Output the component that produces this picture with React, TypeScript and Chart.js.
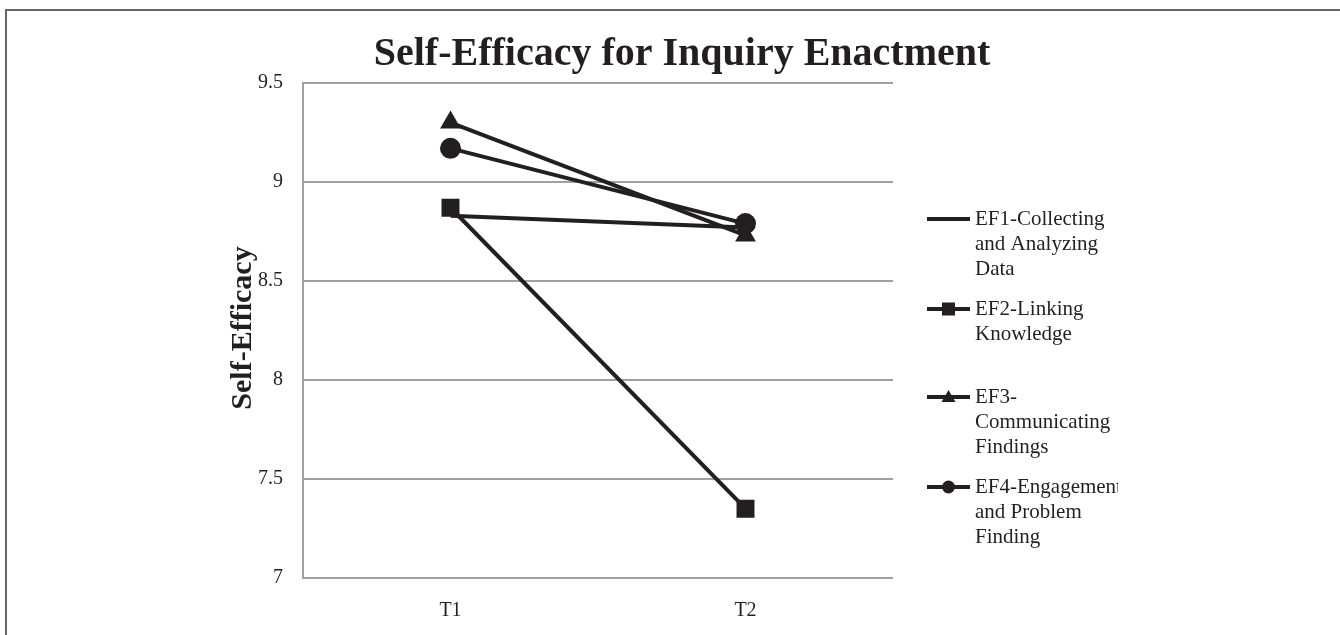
import React, { useEffect, useRef } from "react";
import { Chart, registerables } from "chart.js";

Chart.register(...registerables);

const categories = ["T1", "T2"];
const ef1 = [8.83, 8.77];
const ef2 = [8.87, 7.35];
const ef3 = [9.3, 8.73];
const ef4 = [9.17, 8.79];
const titleText = "Self-Efficacy for Inquiry Enactment";
const yTitleText = "Self-Efficacy";
const legendLines = [
  ["EF1-Collecting", "and Analyzing", "Data"],
  ["EF2-Linking", "Knowledge"],
  ["EF3-", "Communicating", "Findings"],
  ["EF4-Engagement", "and Problem", "Finding"],
];

const INK = "#231f20";
const SERIF = "'Liberation Serif', 'DejaVu Serif', serif";

const decorPlugin = {
  id: "decor",
  afterDraw(chart: any) {
    const ctx = chart.ctx as CanvasRenderingContext2D;
    ctx.save();
    // outer frame (top & left visible)
    ctx.strokeStyle = "#666";
    ctx.lineWidth = 2;
    ctx.strokeRect(6, 10, 1400, 700);

    // title
    ctx.fillStyle = INK;
    ctx.font = `bold 40px ${SERIF}`;
    ctx.textAlign = "center";
    ctx.textBaseline = "middle";
    ctx.fillText(titleText, 682, 55);

    // y title
    ctx.save();
    ctx.translate(243, 328);
    ctx.rotate(-Math.PI / 2);
    ctx.font = `bold 30px ${SERIF}`;
    ctx.fillText(yTitleText, 0, 0);
    ctx.restore();

    // legend
    const starts = [219, 309, 397, 487];
    const lh = 25;
    ctx.save();
    ctx.beginPath();
    ctx.rect(900, 150, 218, 450);
    ctx.clip();
    chart.data.datasets.forEach((ds: any, i: number) => {
      const y = starts[i];
      ctx.strokeStyle = INK;
      ctx.lineWidth = 4;
      ctx.beginPath();
      ctx.moveTo(927, y);
      ctx.lineTo(970, y);
      ctx.stroke();
      ctx.fillStyle = INK;
      const cx = 948.5;
      const style = ds.pointStyle;
      if (ds.pointRadius > 0) {
        if (style === "rect") {
          ctx.fillRect(cx - 6.5, y - 6.5, 13, 13);
        } else if (style === "triangle") {
          ctx.beginPath();
          ctx.moveTo(cx, y - 7);
          ctx.lineTo(cx + 7, y + 5);
          ctx.lineTo(cx - 7, y + 5);
          ctx.closePath();
          ctx.fill();
        } else if (style === "circle") {
          ctx.beginPath();
          ctx.arc(cx, y, 6.5, 0, Math.PI * 2);
          ctx.fill();
        }
      }
      ctx.font = `21px ${SERIF}`;
      ctx.textAlign = "left";
      ctx.textBaseline = "middle";
      legendLines[i].forEach((t, j) => {
        ctx.fillText(t, 975, y + j * lh);
      });
    });
    ctx.restore();
    ctx.restore();
  },
};

export default function App() {
  const ref = useRef<HTMLCanvasElement | null>(null);
  useEffect(() => {
    if (!ref.current) return;
    const common = {
      borderColor: INK,
      backgroundColor: INK,
      pointBackgroundColor: INK,
      pointBorderColor: INK,
      borderWidth: 4,
      pointBorderWidth: 0,
    };
    const chart = new Chart(ref.current, {
      type: "line",
      data: {
        labels: categories,
        datasets: [
          { label: legendLines[0].join(" "), data: ef1, ...common, pointRadius: 0, pointStyle: "circle" },
          { label: legendLines[1].join(" "), data: ef2, ...common, pointRadius: 12.7, pointStyle: "rect" },
          { label: legendLines[2].join(" "), data: ef3, ...common, pointRadius: 12, pointStyle: "triangle" },
          { label: legendLines[3].join(" "), data: ef4, ...common, pointRadius: 10.5, pointStyle: "circle" },
        ],
      },
      options: {
        animation: false,
        responsive: false,
        maintainAspectRatio: false,
        layout: { padding: { left: 0, top: 83, right: 447, bottom: 0 } },
        plugins: { legend: { display: false }, title: { display: false }, tooltip: { enabled: false } },
        elements: { line: { tension: 0 } },
        scales: {
          x: {
            offset: true,
            grid: { display: false, drawTicks: false },
            border: { display: false },
            ticks: { color: INK, font: { family: SERIF, size: 20 }, padding: 21 },
            afterFit: (s: any) => { s.height = 57; },
          },
          y: {
            min: 7,
            max: 9.5,
            ticks: {
              stepSize: 0.5,
              color: INK,
              font: { family: SERIF, size: 20 },
              padding: 20,
              callback: (v: any) => String(v),
            },
            grid: { color: "#a0a0a0", lineWidth: 2, drawTicks: false },
            border: { display: true, color: "#a0a0a0", width: 2 },
            afterFit: (s: any) => { s.width = 303; },
          },
        },
      },
      plugins: [decorPlugin],
    });
    return () => chart.destroy();
  }, []);
  return (
    <div style={{ position: "fixed", left: 0, top: 0, width: 1340, height: 635, background: "#fff" }}>
      <canvas ref={ref} width={1340} height={635} style={{ width: 1340, height: 635, display: "block" }} />
    </div>
  );
}
